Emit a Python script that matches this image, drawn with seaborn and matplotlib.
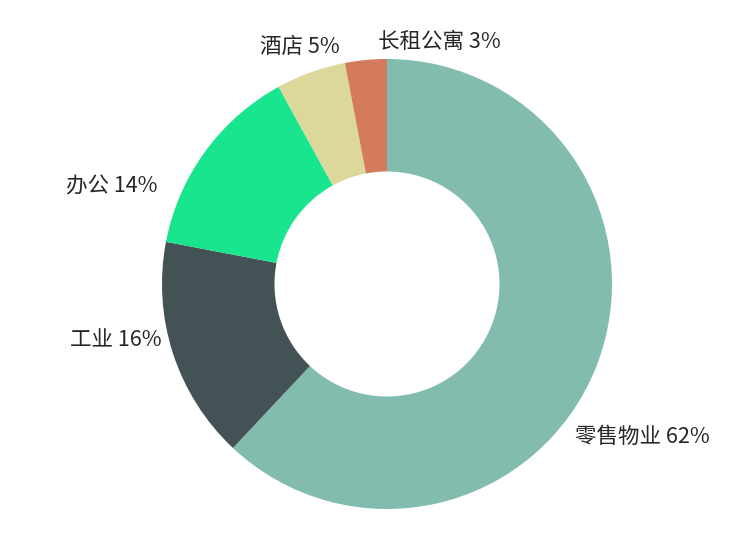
import matplotlib
matplotlib.use("Agg")
import matplotlib.pyplot as plt
import seaborn as sns

sns.set_style("white")
plt.rcParams['font.family'] = ['Noto Sans CJK SC', 'DejaVu Sans']

# Data
categories = ['零售物业', '工业', '办公', '酒店', '长租公寓']
shares = [62, 16, 14, 5, 3]
colors = ['#82bcae', '#435355', '#1ae58f', '#dcd89c', '#d47b5e']

# Label placement (axes data units, pie radius = 1)
label_pos = [(0.836, -0.68), (-1.0, -0.249), (-1.018, 0.431), (-0.209, 1.053), (-0.04, 1.076)]
label_ha = ['left', 'right', 'right', 'right', 'left']

fig = plt.figure(figsize=(7.4, 5.45), dpi=100)
ax = fig.add_axes([0, 0, 1, 1])

ax.pie(shares, colors=colors, startangle=90, counterclock=False,
       radius=1.0, wedgeprops=dict(width=0.5, linewidth=0))

for cat, val, (x, y), ha in zip(categories, shares, label_pos, label_ha):
    ax.text(x, y, f'{cat} {val}%', ha=ha, va='center', fontsize=15.5, color='#262626')

# Map the pie so its centre and radius match the layout
ax.set_aspect('auto')
ax.set_xlim(-387 / 225, (740 - 387) / 225)
ax.set_ylim(-261 / 225, 284 / 225)
ax.axis('off')

fig.savefig('out.png', dpi=100)
